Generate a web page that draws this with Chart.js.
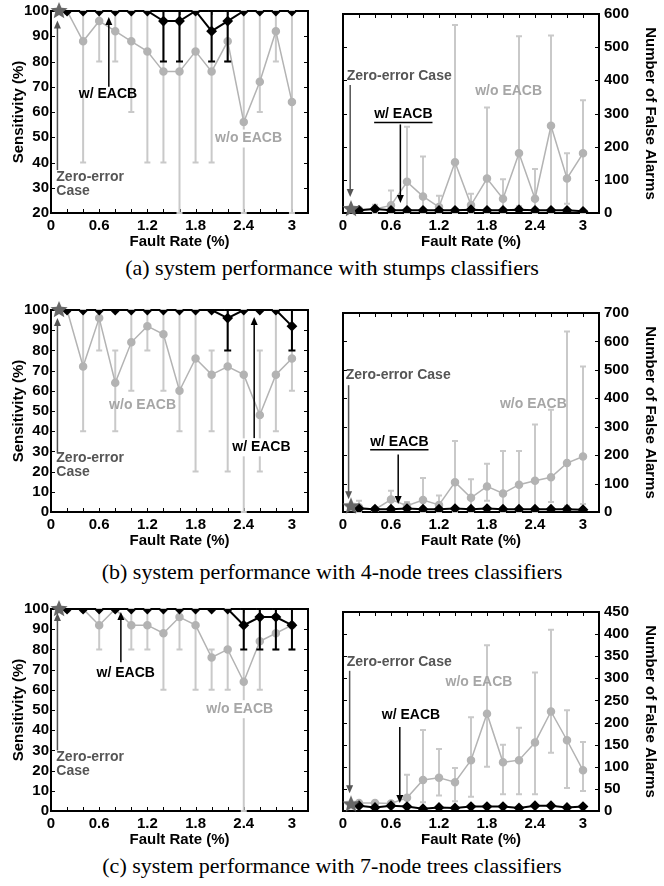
<!DOCTYPE html>
<html>
<head>
<meta charset="utf-8">
<script src="https://cdn.jsdelivr.net/npm/chart.js@4.4.1/dist/chart.umd.min.js"></script>
<style>
  body { margin: 0; background: #fff; }
  #fig { position: relative; width: 664px; height: 886px; overflow: hidden; }
  canvas { position: absolute; }
  .cap { position: absolute; left: 0; width: 664px; text-align: center;
         font-family: "Liberation Serif", "Times New Roman", serif; font-size: 22px; line-height: 24px; color: #000; }
</style>
</head>
<body>
<div id="fig">
  <canvas id="aL" width="330" height="252" style="left:0;top:0"></canvas>
  <canvas id="aR" width="334" height="252" style="left:330px;top:0"></canvas>
  <div class="cap" style="top:256px">(a) system performance with stumps classifiers</div>
  <canvas id="bL" width="330" height="252" style="left:0;top:299px"></canvas>
  <canvas id="bR" width="334" height="252" style="left:330px;top:299px"></canvas>
  <div class="cap" style="top:560px">(b) system performance with 4-node trees classifiers</div>
  <canvas id="cL" width="330" height="252" style="left:0;top:598px"></canvas>
  <canvas id="cR" width="334" height="252" style="left:330px;top:598px"></canvas>
  <div class="cap" style="top:854px">(c) system performance with 7-node trees classifiers</div>
</div>
<script>
// fault rates (%) of the runs, zero-error case sits at 0.1
const faultRates = [0.2, 0.4, 0.6, 0.8, 1.0, 1.2, 1.4, 1.6, 1.8, 2.0, 2.2, 2.4, 2.6, 2.8, 3.0];
const zeroErrorRate = 0.1;

// (a) stumps
const sensA_with     = [100, 100, 100, 100, 100, 100, 96, 96, 100, 92, 96, 100, 100, 100, 100];
const sensA_withLow  = [100, 100, 100, 100, 100, 100, 80, 80, 100, 80, 80, 100, 100, 100, 100];
const sensA_withHigh = [100, 100, 100, 100, 100, 100, 100, 100, 100, 100, 100, 100, 100, 100, 100];
const sensA_wo       = [100, 88, 96, 92, 88, 84, 76, 76, 84, 76, 88, 56, 72, 92, 64];
const sensA_woLow    = [100, 40, 80, 80, 60, 40, 40, 20, 40, 40, 80, 20, 60, 80, 20];
const sensA_woHigh   = [100, 100, 100, 100, 100, 100, 100, 100, 100, 100, 100, 100, 100, 100, 100];
const faA_with       = [8, 12, 8, 8, 8, 8, 8, 10, 8, 8, 10, 8, 8, 8, 5];
const faA_wo         = [10, 12, 23, 94, 50, 18, 153, 24, 104, 43, 180, 43, 263, 104, 180];
const faA_woLow      = [10, 0, 0, 0, 0, 0, 0, 0, 0, 0, 20, 0, 0, 28, 0];
const faA_woHigh     = [10, 25, 68, 260, 170, 52, 567, 58, 318, 102, 533, 133, 535, 180, 340];
const zeroA          = [100, 12];   // sensitivity, false alarms

// (b) 4-node trees
const sensB_with     = [100, 100, 100, 100, 100, 100, 100, 100, 100, 100, 96, 100, 100, 100, 92];
const sensB_withLow  = [100, 100, 100, 100, 100, 100, 100, 100, 100, 100, 80, 100, 100, 100, 80];
const sensB_withHigh = [100, 100, 100, 100, 100, 100, 100, 100, 100, 100, 100, 100, 100, 100, 100];
const sensB_wo       = [100, 72, 96, 64, 84, 92, 88, 60, 76, 68, 72, 68, 48, 68, 76];
const sensB_woLow    = [100, 40, 80, 40, 60, 80, 60, 40, 20, 40, 20, 0, 20, 40, 60];
const sensB_woHigh   = [100, 100, 100, 80, 100, 100, 100, 100, 100, 80, 100, 100, 80, 100, 100];
const faB_with       = [12, 10, 10, 12, 10, 10, 12, 10, 12, 10, 10, 10, 10, 10, 8];
const faB_wo         = [17, 9, 44, 22, 42, 25, 105, 50, 90, 65, 96, 110, 122, 172, 195];
const faB_woLow      = [0, 9, 15, 10, 0, 0, 0, 0, 40, 0, 0, 0, 35, 22, 28];
const faB_woHigh     = [40, 9, 75, 35, 120, 58, 250, 115, 170, 215, 215, 308, 360, 635, 512];
const zeroB          = [100, 20];

// (c) 7-node trees
const sensC_with     = [100, 100, 100, 100, 100, 100, 100, 100, 100, 100, 100, 92, 96, 96, 92];
const sensC_withLow  = [100, 100, 100, 100, 100, 100, 100, 100, 100, 100, 100, 80, 80, 80, 80];
const sensC_withHigh = [100, 100, 100, 100, 100, 100, 100, 100, 100, 100, 100, 100, 100, 100, 100];
const sensC_wo       = [100, 100, 92, 100, 92, 92, 88, 96, 92, 76, 80, 64, 84, 88, 92];
const sensC_woLow    = [100, 100, 80, 100, 80, 80, 60, 80, 60, 60, 60, 0, 60, 80, 80];
const sensC_woHigh   = [100, 100, 100, 100, 100, 100, 100, 100, 100, 80, 100, 100, 100, 100, 100];
const faC_with       = [12, 8, 12, 10, 5, 8, 7, 10, 10, 10, 7, 12, 12, 8, 10];
const faC_wo         = [18, 18, 17, 30, 70, 75, 65, 115, 220, 110, 115, 155, 225, 160, 92];
const faC_woLow      = [18, 18, 17, 10, 20, 35, 22, 32, 100, 38, 38, 38, 132, 52, 45];
const faC_woHigh     = [18, 18, 17, 82, 183, 140, 97, 212, 375, 150, 188, 313, 410, 228, 156];
const zeroC          = [100, 15];

Chart.defaults.font.family = '"Liberation Sans", Arial, sans-serif';
Chart.defaults.font.weight = 'bold';
Chart.defaults.color = '#000';

const GRAY = '#b3b3b3';
const BAR_GRAY = '#c9c9c9';
const TEXT_GRAY = '#a6a6a6';
const DARK = '#555555';

// filled five point star for the zero-error marker
function makeStar(r, color) {
  const c = document.createElement('canvas');
  c.width = c.height = r * 2 + 2;
  const g = c.getContext('2d');
  g.fillStyle = color;
  g.beginPath();
  for (let i = 0; i < 10; i++) {
    const rad = i % 2 === 0 ? r : r * 0.45;
    const a = -Math.PI / 2 + i * Math.PI / 5;
    g.lineTo(r + 1 + rad * Math.cos(a), r + 1 + rad * Math.sin(a));
  }
  g.closePath();
  g.fill();
  return c;
}
const starImg = makeStar(9, '#666666');

const pts = (xs, ys) => xs.map((x, i) => ({ x: x, y: ys[i] }));

// error bars, drawn just before their own dataset
const errorBars = {
  id: 'errorBars',
  beforeDatasetDraw(chart, args) {
    const ds = chart.data.datasets[args.index];
    if (!ds.errLow) return;
    const { ctx, chartArea } = chart;
    const xs = chart.scales.x, ys = chart.scales.y;
    const cap = ds.errCap;
    ctx.save();
    ctx.beginPath();
    ctx.rect(chartArea.left, chartArea.top - 1, chartArea.width, chartArea.height + 2);
    ctx.clip();
    ctx.strokeStyle = ds.errColor;
    ctx.lineWidth = ds.errWidth;
    ds.data.forEach((p, i) => {
      const lo = ds.errLow[i], hi = ds.errHigh[i];
      if (lo === hi) return;
      const x = xs.getPixelForValue(p.x);
      const y1 = ys.getPixelForValue(lo), y2 = ys.getPixelForValue(hi);
      ctx.beginPath();
      ctx.moveTo(x, y1); ctx.lineTo(x, y2);
      ctx.moveTo(x - cap, y1); ctx.lineTo(x + cap, y1);
      ctx.moveTo(x - cap, y2); ctx.lineTo(x + cap, y2);
      ctx.stroke();
    });
    ctx.restore();
  }
};

// box round the plot with inward ticks on all four sides
const frame = {
  id: 'frame',
  beforeDatasetsDraw(chart) {
    const { ctx, chartArea: a } = chart;
    const xs = chart.scales.x, ys = chart.scales.y;
    ctx.save();
    ctx.strokeStyle = '#000';
    ctx.lineWidth = 1;
    ctx.beginPath();
    xs.ticks.forEach(t => {
      const x = Math.round(xs.getPixelForValue(t.value)) + 0.5;
      ctx.moveTo(x, a.bottom); ctx.lineTo(x, a.bottom - 4);
      ctx.moveTo(x, a.top); ctx.lineTo(x, a.top + 4);
    });
    ys.ticks.forEach(t => {
      const y = Math.round(ys.getPixelForValue(t.value)) + 0.5;
      ctx.moveTo(a.left, y); ctx.lineTo(a.left + 4, y);
      ctx.moveTo(a.right, y); ctx.lineTo(a.right - 4, y);
    });
    ctx.stroke();
    ctx.lineWidth = 2;
    ctx.strokeRect(a.left, a.top, a.right - a.left, a.bottom - a.top);
    ctx.restore();
  }
};

// text labels and arrows, placed in data coordinates
function notesPlugin(texts, arrows) {
  return {
    id: 'notes',
    afterDatasetsDraw(chart) {
      const ctx = chart.ctx;
      const xs = chart.scales.x, ys = chart.scales.y;
      ctx.save();
      arrows.forEach(ar => {
        const x = xs.getPixelForValue(ar.x);
        const y1 = ys.getPixelForValue(ar.from), y2 = ys.getPixelForValue(ar.to);
        const dir = y2 < y1 ? -1 : 1;
        ctx.strokeStyle = ar.color; ctx.fillStyle = ar.color; ctx.lineWidth = 1.5;
        ctx.beginPath(); ctx.moveTo(x, y1); ctx.lineTo(x, y2 - dir * 6); ctx.stroke();
        ctx.beginPath();
        ctx.moveTo(x, y2); ctx.lineTo(x - 3.5, y2 - dir * 8); ctx.lineTo(x + 3.5, y2 - dir * 8);
        ctx.closePath(); ctx.fill();
      });
      ctx.font = 'bold 14px "Liberation Sans", Arial, sans-serif';
      ctx.textBaseline = 'middle';
      texts.forEach(n => {
        const x = xs.getPixelForValue(n.x), y = ys.getPixelForValue(n.y);
        const w = ctx.measureText(n.text).width;
        const left = n.align === 'left' ? x : x - w / 2;
        if (n.bg) { ctx.fillStyle = '#fff'; ctx.fillRect(left - 2, y - 9, w + 4, 18); }
        ctx.fillStyle = n.color;
        ctx.textAlign = 'left';
        ctx.fillText(n.text, left, y);
        if (n.underline) {
          ctx.strokeStyle = n.color; ctx.lineWidth = 1.5;
          ctx.beginPath(); ctx.moveTo(left, y + 8); ctx.lineTo(left + w, y + 8); ctx.stroke();
        }
      });
      ctx.restore();
    }
  };
}

function xLabel(value) {
  const v = Math.round(value * 10) / 10;
  return Math.round(v * 10) % 6 === 0 ? String(v) : '';
}

function drawPanel(id, p) {
  const left = p.side === 'left';
  new Chart(document.getElementById(id), {
    type: 'line',
    data: {
      datasets: [
        { data: [{ x: zeroErrorRate, y: p.zero }], pointStyle: starImg, pointRadius: 9,
          showLine: false, clip: false },
        { data: pts(faultRates, p.withY), borderColor: '#000', borderWidth: 2,
          pointStyle: 'rectRot', pointRadius: 4, pointBackgroundColor: '#000', pointBorderColor: '#000',
          errLow: p.withLow, errHigh: p.withHigh, errColor: '#000', errWidth: 2, errCap: 3.5 },
        { data: pts(faultRates, p.woY), borderColor: GRAY, borderWidth: 1.5,
          pointStyle: 'circle', pointRadius: 3.5, pointBackgroundColor: GRAY, pointBorderColor: GRAY,
          errLow: p.woLow, errHigh: p.woHigh, errColor: BAR_GRAY, errWidth: 2, errCap: 3 }
      ]
    },
    options: {
      responsive: false,
      animation: false,
      events: [],
      layout: { padding: left ? { top: 11, right: 22, left: 0, bottom: 0 } : { top: 11, right: 0, left: 13, bottom: 0 } },
      plugins: { legend: { display: false }, tooltip: { enabled: false } },
      scales: {
        x: {
          type: 'linear', min: 0, max: 3.2,
          grid: { display: false, drawTicks: false },
          border: { display: false },
          ticks: { stepSize: 0.2, autoSkip: false, maxRotation: 0, padding: 4,
                   font: { size: 15, weight: 'bold' }, callback: xLabel },
          title: { display: true, text: 'Fault Rate (%)', font: { size: 15, weight: 'bold' },
                   padding: { top: 0, bottom: 1 } },
          afterFit: s => { s.height = 39; }
        },
        y: {
          type: 'linear', position: p.side, min: p.yMin, max: p.yMax,
          grid: { display: false, drawTicks: false },
          border: { display: false },
          ticks: { stepSize: p.yStep, autoSkip: false, padding: left ? 2 : 5, font: { size: 15, weight: 'bold' } },
          title: { display: true, text: left ? 'Sensitivity (%)' : 'Number of False Alarms',
                   font: { size: 15, weight: 'bold' }, padding: { top: left ? 10 : 5, bottom: 0 } },
          afterFit: s => { s.width = left ? 51 : 65; }
        }
      }
    },
    plugins: [frame, errorBars, notesPlugin(p.texts, p.arrows)]
  });
}

const zeroText = (y1, y2) => [
  { text: 'Zero-error', x: 0.066, y: y1, color: DARK, align: 'left' },
  { text: 'Case', x: 0.066, y: y2, color: DARK, align: 'left' }
];

drawPanel('aL', {
  side: 'left', yMin: 20, yMax: 100, yStep: 10, zero: zeroA[0],
  withY: sensA_with, withLow: sensA_withLow, withHigh: sensA_withHigh,
  woY: sensA_wo, woLow: sensA_woLow, woHigh: sensA_woHigh,
  texts: [{ text: 'w/ EACB', x: 0.71, y: 67, color: '#000' },
          { text: 'w/o EACB', x: 2.46, y: 49.5, color: TEXT_GRAY, bg: true }].concat(zeroText(34.3, 28.7)),
  arrows: [{ x: 0.72, from: 70, to: 97.6, color: '#000' }, { x: 0.08, from: 37, to: 96.2, color: DARK }]
});
drawPanel('aR', {
  side: 'right', yMin: 0, yMax: 600, yStep: 100, zero: zeroA[1],
  withY: faA_with, withLow: null, withHigh: null,
  woY: faA_wo, woLow: faA_woLow, woHigh: faA_woHigh,
  texts: [{ text: 'Zero-error Case', x: 0.046, y: 413, color: DARK, align: 'left' },
          { text: 'w/ EACB', x: 0.754, y: 297, color: '#000', underline: true },
          { text: 'w/o EACB', x: 2.07, y: 368, color: TEXT_GRAY }],
  arrows: [{ x: 0.09, from: 386, to: 48, color: DARK }, { x: 0.717, from: 267, to: 30, color: '#000' }]
});
drawPanel('bL', {
  side: 'left', yMin: 0, yMax: 100, yStep: 10, zero: zeroB[0],
  withY: sensB_with, withLow: sensB_withLow, withHigh: sensB_withHigh,
  woY: sensB_wo, woLow: sensB_woLow, woHigh: sensB_woHigh,
  texts: [{ text: 'w/o EACB', x: 1.14, y: 53, color: TEXT_GRAY },
          { text: 'w/ EACB', x: 2.62, y: 32, color: '#000', bg: true }].concat(zeroText(26.6, 19.7)),
  arrows: [{ x: 2.53, from: 36.5, to: 96.5, color: '#000' }, { x: 0.08, from: 29, to: 96, color: DARK }]
});
drawPanel('bR', {
  side: 'right', yMin: 0, yMax: 700, yStep: 100, zero: zeroB[1],
  withY: faB_with, withLow: null, withHigh: null,
  woY: faB_wo, woLow: faB_woLow, woHigh: faB_woHigh,
  texts: [{ text: 'Zero-error Case', x: 0.033, y: 480, color: DARK, align: 'left' },
          { text: 'w/ EACB', x: 0.704, y: 247, color: '#000', underline: true },
          { text: 'w/o EACB', x: 2.38, y: 380, color: TEXT_GRAY }],
  arrows: [{ x: 0.07, from: 446, to: 45, color: DARK }, { x: 0.69, from: 202, to: 28, color: '#000' }]
});
drawPanel('cL', {
  side: 'left', yMin: 0, yMax: 100, yStep: 10, zero: zeroC[0],
  withY: sensC_with, withLow: sensC_withLow, withHigh: sensC_withHigh,
  woY: sensC_wo, woLow: sensC_woLow, woHigh: sensC_woHigh,
  texts: [{ text: 'w/ EACB', x: 0.93, y: 68, color: '#000' },
          { text: 'w/o EACB', x: 2.35, y: 50.4, color: TEXT_GRAY, bg: true }].concat(zeroText(26.6, 19.7)),
  arrows: [{ x: 0.87, from: 73.7, to: 98.5, color: '#000' }, { x: 0.08, from: 30, to: 98, color: DARK }]
});
drawPanel('cR', {
  side: 'right', yMin: 0, yMax: 450, yStep: 50, zero: zeroC[1],
  withY: faC_with, withLow: null, withHigh: null,
  woY: faC_wo, woLow: faC_woLow, woHigh: faC_woHigh,
  texts: [{ text: 'Zero-error Case', x: 0.046, y: 337, color: DARK, align: 'left' },
          { text: 'w/ EACB', x: 0.85, y: 216, color: '#000' },
          { text: 'w/o EACB', x: 1.70, y: 292, color: TEXT_GRAY }],
  arrows: [{ x: 0.083, from: 317, to: 40, color: DARK }, { x: 0.71, from: 190, to: 18, color: '#000' }]
});
</script>
</body>
</html>
